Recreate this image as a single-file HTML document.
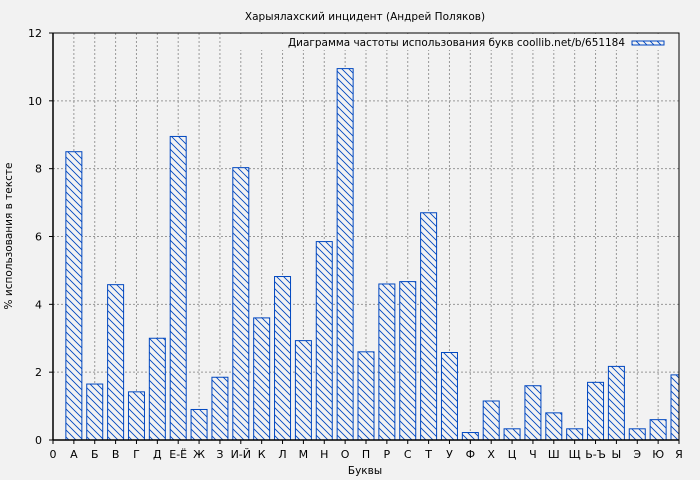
<!DOCTYPE html><html><head><meta charset="utf-8"><style>body{margin:0;background:#f2f2f2}svg{display:block;font-family:"DejaVu Sans","Liberation Sans",sans-serif}</style></head><body>
<svg width="700" height="480" xmlns="http://www.w3.org/2000/svg">
<defs><pattern id="h" patternUnits="userSpaceOnUse" width="7" height="7"><rect width="7" height="7" fill="#f2f2f2"/><path d="M-1,-1 L8,8 M-1,6 L1,8 M6,-1 L8,1" stroke="#0047c0" stroke-width="0.9"/></pattern></defs>
<rect width="700" height="480" fill="#f2f2f2"/>
<text x="365" y="20" font-size="10.5" text-anchor="middle">Харыялахский инцидент (Андрей Поляков)</text>
<g id="grid" stroke="#999" stroke-dasharray="2,2" stroke-width="1"></g>
<rect x="240" y="34" width="438" height="16" fill="#f2f2f2"/>
<g id="bars"></g>
<rect x="53" y="33" width="626" height="407" fill="none" stroke="#000" stroke-width="1"/>
<line x1="53" y1="33" x2="53" y2="440" stroke="#000" stroke-width="1.5"/>
<line x1="53" y1="440" x2="679" y2="440" stroke="#000" stroke-width="1.5"/>
<g id="ax" font-size="11"></g>
<text x="625" y="46" font-size="11" text-anchor="end" textLength="337" lengthAdjust="spacingAndGlyphs">Диаграмма частоты использования букв coollib.net/b/651184</text>
<rect x="632" y="41" width="32" height="4" fill="url(#h)" stroke="#0047c0"/>
<text x="365" y="474" font-size="10.5" text-anchor="middle">Буквы</text>
<text transform="translate(12,236) rotate(-90)" font-size="10.5" text-anchor="middle">% использования в тексте</text>
</svg>
<script>
var L=["0","А","Б","В","Г","Д","Е-Ё","Ж","З","И-Й","К","Л","М","Н","О","П","Р","С","Т","У","Ф","Х","Ц","Ч","Ш","Щ","Ь-Ъ","Ы","Э","Ю","Я"];
var V=[0,8.5,1.65,4.58,1.42,3.0,8.95,0.9,1.85,8.03,3.6,4.82,2.93,5.85,10.95,2.6,4.6,4.67,6.7,2.58,0.22,1.15,0.33,1.6,0.8,0.33,1.7,2.17,0.33,0.6,1.92];
var ns="http://www.w3.org/2000/svg",g=document.getElementById("grid"),b=document.getElementById("bars"),a=document.getElementById("ax");
function el(p,t,o,txt){var e=document.createElementNS(ns,t);for(var k in o)e.setAttribute(k,o[k]);if(txt)e.textContent=txt;p.appendChild(e);}
var st=626/30,sy=407/12;
for(var i=0;i<=30;i++){var x=53+i*st;
 if(i>0&&i<30)el(g,"line",{x1:x,y1:33,x2:x,y2:440});
 el(a,"line",{x1:x,y1:440,x2:x,y2:444,stroke:"#000"});
 el(a,"text",{x:x,y:458,"text-anchor":"middle"},L[i]);
 if(i>0){var h=V[i]*sy,x0=x-8,x1=Math.min(x+8,679);el(b,"rect",{x:x0,y:440-h,width:x1-x0,height:h,fill:"url(#h)",stroke:"#0047c0","stroke-width":1});}
}
for(var j=0;j<=12;j+=2){var y=440-j*sy;
 if(j>0&&j<12)el(g,"line",{x1:53,y1:y,x2:679,y2:y});
 el(a,"line",{x1:49,y1:y,x2:53,y2:y,stroke:"#000"});
 el(a,"text",{x:42,y:y+4,"text-anchor":"end"},String(j));}
</script>
</body></html>
